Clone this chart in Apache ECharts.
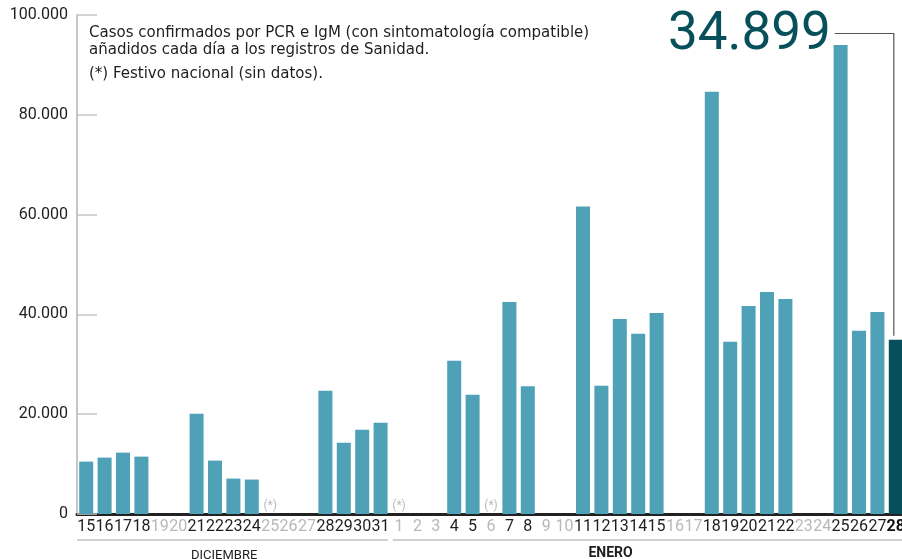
<!DOCTYPE html>
<html>
<head>
<meta charset="utf-8">
<script src="https://cdn.jsdelivr.net/npm/echarts@6/dist/echarts.min.js"></script>
<style>
  html, body { margin: 0; padding: 0; background: #fff; }
  #chart { width: 902px; height: 559px; }
</style>
</head>
<body>
<div id="chart"></div>
<script>
// dias de diciembre y enero
const decDays = [15, 16, 17, 18, 19, 20, 21, 22, 23, 24, 25, 26, 27, 28, 29, 30, 31]
const janDays = [1, 2, 3, 4, 5, 6, 7, 8, 9, 10, 11, 12, 13, 14, 15, 16, 17, 18, 19, 20, 21, 22, 23, 24, 25, 26, 27, 28]
// casos nuevos notificados (null = sin datos)
const decCases = [10500, 11300, 12300, 11500, null, null, 20100, 10700, 7100, 6900, null, null, null, 24700, 14300, 16900, 18300]
const janCases = [null, null, null, 30700, 23900, null, 42500, 25600, null, null, 61600, 25700, 39100, 36100, 40300, null, null, 84600, 34500, 41700, 44500, 43100, null, null, 94000, 36700, 40500, 34899]
// festivos nacionales
const holidays = ['d-25', 'e-1', 'e-6']
const monthNames = ['DICIEMBRE', 'ENERO']

const FONT = 'Roboto'
const BAR = '#4ea1b6'
const BAR_LAST = '#064f5b'

const categories = decDays.map(d => 'd-' + d).concat(janDays.map(d => 'e-' + d))
const values = decCases.concat(janCases)
const lastIndex = values.length - 1

const fmt = v => String(v).replace(/\B(?=(\d{3})+(?!\d))/g, '.')

const chart = echarts.init(document.getElementById('chart'))

const option = {
  animation: false,
  grid: { left: 77, width: 828, top: 15, bottom: 45, outerBoundsMode: 'none', containLabel: false },
  xAxis: {
    type: 'category',
    data: categories,
    axisLine: { lineStyle: { color: '#222', width: 3 } },
    axisTick: { inside: true, length: 12, lineStyle: { color: '#c6c6c6', width: 2 } },
    axisLabel: {
      interval: 0,
      margin: 5,
      formatter: (v, i) => {
        const day = v.split('-')[1]
        if (i === lastIndex) return '{b|' + day + '}'
        return values[i] == null ? '{g|' + day + '}' : '{d|' + day + '}'
      },
      rich: {
        d: { color: '#1e1e1e', fontSize: 16, fontFamily: FONT },
        g: { color: '#b8b8b8', fontSize: 16, fontFamily: FONT },
        b: { color: '#111', fontSize: 16, fontFamily: FONT, fontWeight: 'bold' }
      }
    }
  },
  yAxis: {
    type: 'value',
    min: 0,
    max: 100000,
    interval: 20000,
    axisLine: { show: true, lineStyle: { color: '#c6c6c6', width: 2 } },
    axisTick: { show: true, inside: true, length: 20, lineStyle: { color: '#c6c6c6', width: 1.5 } },
    splitLine: { show: false },
    axisLabel: {
      margin: 9,
      color: '#1e1e1e',
      fontSize: 16,
      fontFamily: FONT,
      formatter: v => fmt(v)
    }
  },
  series: [
    {
      type: 'bar',
      barWidth: 14,
      data: values.map((v, i) => ({
        value: v,
        itemStyle: { color: i === lastIndex ? BAR_LAST : BAR }
      })),
      z: 3
    },
    {
      type: 'scatter',
      symbolSize: 1,
      itemStyle: { color: 'transparent' },
      data: holidays.map(k => [k, 0]),
      label: {
        show: true,
        position: 'top',
        distance: 2,
        formatter: '(*)',
        color: '#a8a8a8',
        fontSize: 12,
        fontFamily: FONT
      },
      z: 1
    }
  ]
}

chart.setOption(option)

// anotaciones colocadas a partir de las posiciones del eje
const px = (k, v) => chart.convertToPixel({ gridIndex: 0 }, [k, v])
const step = px('d-16', 0)[0] - px('d-15', 0)[0]
const [lastX, lastY] = px(categories[lastIndex], values[lastIndex])
const decStart = px('d-15', 0)[0] - step / 2
const decEnd = px('d-31', 0)[0] + step / 2
const janStart = px('e-1', 0)[0] - step / 2
const janEnd = px('e-28', 0)[0] + step / 2
const baseY = px('d-15', 0)[1]

chart.setOption({
  graphic: [
    {
      type: 'text', left: 89, top: 25,
      style: {
        text: 'Casos confirmados por PCR e IgM (con sintomatología compatible)\nañadidos cada día a los registros de Sanidad.',
        fill: '#1e1e1e', font: '15px "DejaVu Sans"', lineHeight: 17
      }
    },
    {
      type: 'text', left: 89, top: 67,
      style: { text: '(*) Festivo nacional (sin datos).', fill: '#1e1e1e', font: '15px "DejaVu Sans"' }
    },
    {
      type: 'text', x: lastX - 65, y: 36,
      style: {
        text: fmt(values[lastIndex]), fill: BAR_LAST, font: '53px Roboto',
        align: 'right', verticalAlign: 'middle'
      }
    },
    {
      type: 'polyline',
      shape: { points: [[lastX - 61, 33.5], [lastX - 2, 33.5], [lastX - 2, lastY - 4]] },
      style: { stroke: '#555', lineWidth: 1.2, fill: null }
    },
    {
      type: 'line',
      shape: { x1: decStart, y1: baseY + 26, x2: decEnd - 2, y2: baseY + 26 },
      style: { stroke: '#cfcfcf', lineWidth: 2 }
    },
    {
      type: 'line',
      shape: { x1: janStart + 3, y1: baseY + 26, x2: janEnd, y2: baseY + 26 },
      style: { stroke: '#cfcfcf', lineWidth: 2 }
    },
    {
      type: 'text', x: (px('d-22', 0)[0] + px('d-23', 0)[0]) / 2, y: baseY + 35,
      style: { text: monthNames[0], fill: '#1e1e1e', font: '13px Roboto', align: 'center' }
    },
    {
      type: 'text', x: (px('e-12', 0)[0] + px('e-13', 0)[0]) / 2, y: baseY + 32,
      style: { text: monthNames[1], fill: '#1e1e1e', font: 'bold 14px Roboto', align: 'center' }
    }
  ]
})
</script>
</body>
</html>
